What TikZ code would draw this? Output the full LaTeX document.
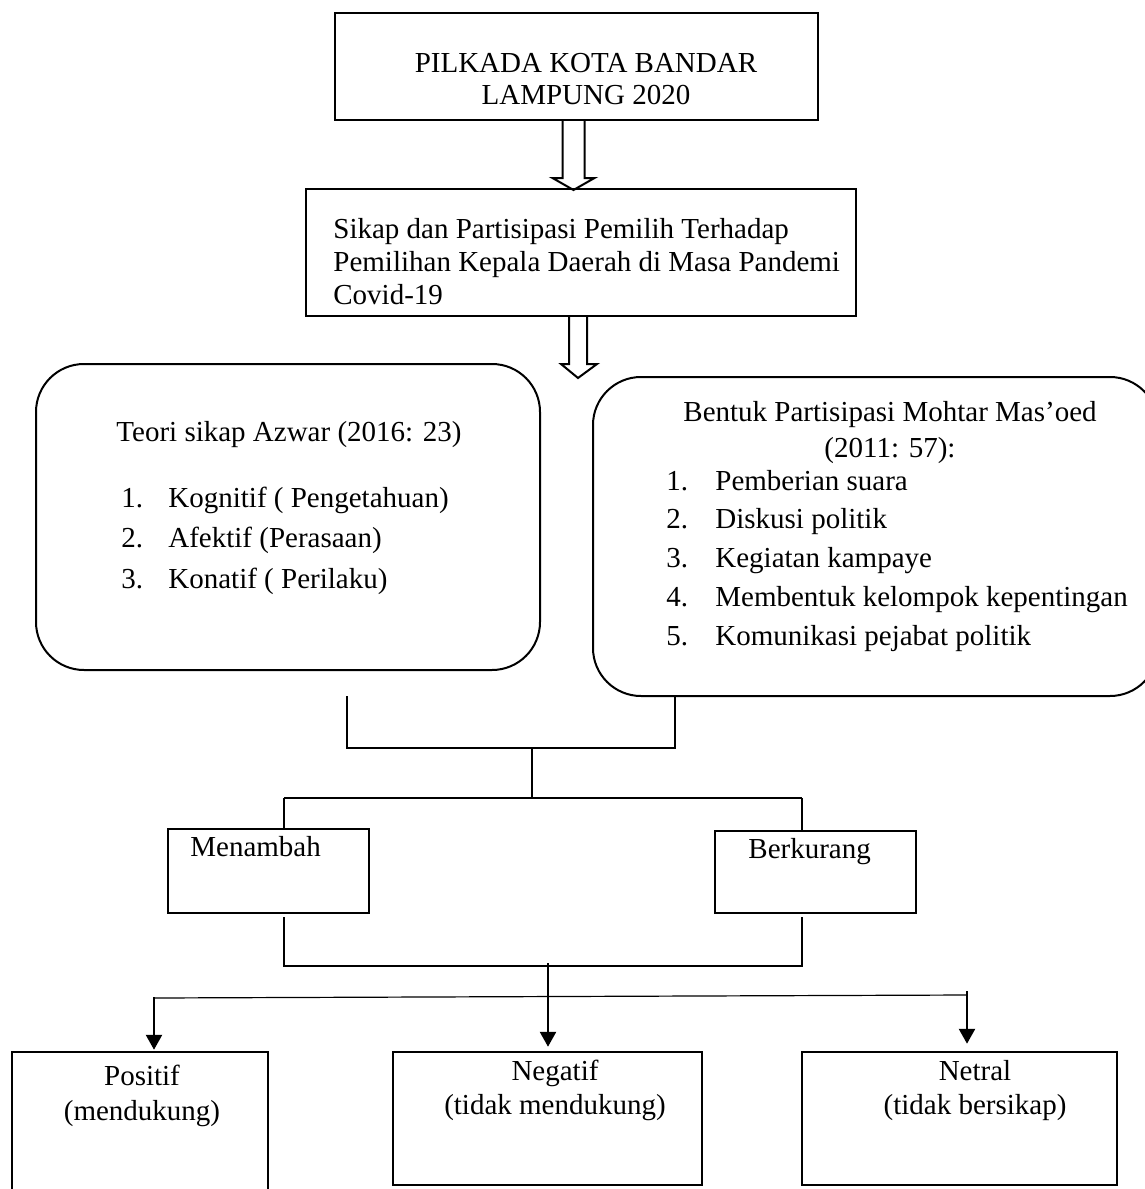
\documentclass[tikz,border=0pt]{standalone}
\usepackage{fontspec}
\setmainfont{Liberation Serif}
\usetikzlibrary{calc,fit,arrows.meta}
\newcommand\itemnoA[1]{\makebox[23.5pt][l]{#1}}
\newcommand\itemnoB[1]{\makebox[24.5pt][l]{#1}}
\begin{document}
\begin{tikzpicture}[x=0.5pt,y=-0.5pt,
  every node/.style={font=\fontsize{14.5}{16}\selectfont, inner sep=0pt},
  box/.style={draw, line width=1pt, inner sep=0pt},
  rbox/.style={box, rounded corners=24pt},
  lbox/.style={draw, line width=1.25pt, inner sep=0pt},
  conn/.style={line width=1pt},
  thinln/.style={line width=0.6pt},
  hollow/.style={line width=1pt, line join=miter},
  arr/.style={line width=1.3pt, -{Triangle[length=7.5pt,width=8pt]}},
  txt/.style={anchor=base west},
  ctxt/.style={anchor=base}]
\clip (0,0) rectangle (1145,1189);
\fill[white] (0,0) rectangle (1145,1189);

% boxes
\node[box, fit={(335,13) (818,120)}] (b1) {};
\node[box, fit={(306,189) (856,316)}] (b2) {};
\node[rbox, fit={(36,364) (540,670)}] (tl) {};
\node[rbox, fit={(593,377) (1158,696)}] (tr) {};
\node[box, fit={(168,829) (369,913)}] (men) {};
\node[box, fit={(715,831) (916,913)}] (ber) {};
\node[lbox, fit={(12,1052) (268,1210)}] (pos) {};
\node[lbox, fit={(393,1052) (702,1185)}] (neg) {};
\node[lbox, fit={(802,1052) (1117,1185)}] (net) {};

% texts
\node[ctxt] (t1a) at (586,72) {PILKADA KOTA BANDAR};
\node[ctxt] (t1b) at (586,104) {LAMPUNG 2020};

\node[txt] (t2a) at (333,238) {Sikap dan Partisipasi Pemilih Terhadap};
\node[txt] (t2b) at (333,271) {Pemilihan Kepala Daerah di Masa Pandemi};
\node[txt] (t2c) at (333,304) {Covid-19};

\node[ctxt] (tlh) at (289,441) {Teori sikap Azwar (2016: 23)};
\node[txt] (tl1) at (121,507) {\itemnoA{1.}Kognitif ( Pengetahuan)};
\node[txt] (tl2) at (121,547) {\itemnoA{2.}Afektif (Perasaan)};
\node[txt] (tl3) at (121,588) {\itemnoA{3.}Konatif ( Perilaku)};

\node[ctxt] (trh) at (890,421) {Bentuk Partisipasi Mohtar Mas’oed};
\node[ctxt] (trh2) at (890,457) {(2011: 57):};
\node[txt] (tr1) at (666,490) {\itemnoB{1.}Pemberian suara};
\node[txt] (tr2) at (666,528) {\itemnoB{2.}Diskusi politik};
\node[txt] (tr3) at (666,567) {\itemnoB{3.}Kegiatan kampaye};
\node[txt] (tr4) at (666,606) {\itemnoB{4.}Membentuk kelompok kepentingan};
\node[txt] (tr5) at (666,645) {\itemnoB{5.}Komunikasi pejabat politik};

\node[txt] (tm) at (190,856) {Menambah};
\node[txt] (tb) at (748,858) {Berkurang};

\node[ctxt] (tp1) at (142,1085) {Positif};
\node[ctxt] (tp2) at (142,1120) {(mendukung)};
\node[ctxt] (tn1) at (555,1080) {Negatif};
\node[ctxt] (tn2) at (555,1114) {(tidak mendukung)};
\node[ctxt] (tt1) at (975,1080) {Netral};
\node[ctxt] (tt2) at (975,1114) {(tidak bersikap)};

% hollow arrows
\draw[hollow] ($(b1.south)+(-14,0)$) -- ($(b1.south)+(-14,57)$) -- ($(b1.south)+(-24,57)$)
  -- ($(b1.south)+(-3,69)$) -- ($(b1.south)+(18,57)$) -- ($(b1.south)+(8,57)$) -- ($(b1.south)+(8,0)$);
\draw[hollow] ($(b2.south)+(-12,0)$) -- ($(b2.south)+(-12,47)$) -- ($(b2.south)+(-20,47)$)
  -- ($(b2.south)+(-3,61)$) -- ($(b2.south)+(16,47)$) -- ($(b2.south)+(6,47)$) -- ($(b2.south)+(6,0)$);

% junction connectors
\coordinate (ja) at (347,696);
\coordinate (jb) at (675,748);
\coordinate (jc) at (532,748);
\coordinate (jm) at (284,798);
\coordinate (jn) at (802,798);
\coordinate (jq) at (284,966);
\coordinate (jr) at (802,966);
\draw[conn] (ja) |- (jb) -- (jb |- tr.south);
\draw[conn] (jc) -- (jc |- jm);
\draw[conn] (jm) -- (jn);
\draw[conn] (jm) -- (jm |- men.north);
\draw[conn] (jn) -- (jn |- ber.north);
\draw[conn] ($(jq |- men.south)+(0,3)$) -- (jq) -- (jr) -- ($(jr |- ber.south)+(0,3)$);

% bottom arrows
\coordinate (js) at (548,963);
\coordinate (jt) at (548,997);
\coordinate (ju) at (154,998);
\coordinate (jv) at (967,995);
\draw[thinln] (js) -- (jt);
\draw[thinln] (ju) -- (jv);
\draw[arr] ($(ju)+(0,-1)$) -- ($(ju |- pos.north)+(0,-1)$);
\draw[arr] (jt) -- ($(jt |- neg.north)+(0,-4)$);
\draw[arr] ($(jv)+(0,-4)$) -- ($(jv |- net.north)+(0,-7)$);
\end{tikzpicture}
\end{document}
